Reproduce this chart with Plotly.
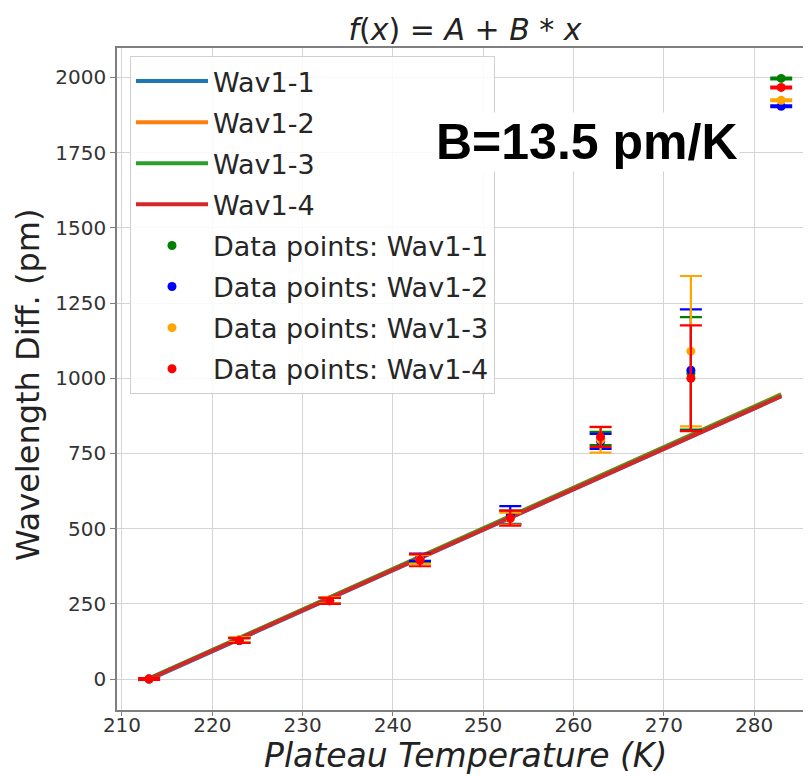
import plotly.graph_objects as go

# temperature plateaus (K)
temps = [213, 223, 233, 243, 253, 263, 273, 283]

# measured wavelength differences (pm) and their errors
wav1_1 = [0, 130, 262, 400, 538, 800, 1016, 1997]
err1_1 = [3, 8, 10, 15, 22, 22, 187, 3]
wav1_2 = [0, 128, 260, 405, 545, 790, 1027, 1904]
err1_2 = [3, 8, 10, 12, 30, 25, 202, 3]
wav1_3 = [0, 131, 262, 398, 533, 795, 1090, 1924]
err1_3 = [3, 8, 10, 15, 20, 42, 250, 3]
wav1_4 = [0, 128, 260, 395, 535, 805, 1000, 1967]
err1_4 = [3, 8, 10, 20, 25, 33, 176, 3]

# linear fits, evaluated at the end points
fit_x = [213, 283]
fit1_1 = [-2, 940]
fit1_2 = [1, 947]
fit1_3 = [2, 945]
fit1_4 = [0, 940]

fit_names = ["Wav1-1", "Wav1-2", "Wav1-3", "Wav1-4"]
fit_colors = ["#1f77b4", "#ff7f0e", "#2ca02c", "#d62728"]
fits = [fit1_1, fit1_2, fit1_3, fit1_4]

pt_names = ["Data points: Wav1-1", "Data points: Wav1-2",
            "Data points: Wav1-3", "Data points: Wav1-4"]
pt_colors = ["green", "blue", "orange", "red"]
pts = [wav1_1, wav1_2, wav1_3, wav1_4]
errs = [err1_1, err1_2, err1_3, err1_4]

fig = go.Figure()

for name, col, yy in zip(fit_names, fit_colors, fits):
    fig.add_trace(go.Scatter(
        x=fit_x, y=yy, mode="lines", name=name, legendgroup=name,
        line=dict(color=col, width=4)
    ))

for name, col, yy, ee in zip(pt_names, pt_colors, pts, errs):
    fig.add_trace(go.Scatter(
        x=temps, y=yy, mode="markers", name=name, legendgroup=name,
        marker=dict(color=col, size=9),
        error_y=dict(type="data", array=ee, visible=True,
                     color=col, thickness=2.2, width=11)
    ))

axis_font = dict(family="DejaVu Sans", size=20, color="#333333")

# the page body has an 8px margin, so shift everything up/left by it
OFF = 8
FW, FH = 811 - OFF, 776 - OFF
# plot area in page pixels: x 117..811, y 48..710
L, R, T, B = 117 - OFF, 811 - OFF, 48 - OFF, 710 - OFF
W, H = R - L, B - T


def px(x):
    return (x - OFF - L) / W


def py(y):
    return (B - (y - OFF)) / H


fig.update_layout(
    width=FW, height=FH,
    margin=dict(l=L, r=FW - R, t=T, b=FH - B),
    paper_bgcolor="white",
    plot_bgcolor="white",
    font=dict(family="DejaVu Sans", color="#262626"),
    title=dict(
        text="<i>f</i>(<i>x</i>) = <i>A</i> + <i>B</i> * <i>x</i>",
        x=(465 - OFF) / FW, xanchor="center", y=1 - (29 - OFF) / FH,
        yanchor="middle",
        font=dict(family="DejaVu Sans", size=30, color="#222222")
    ),
    xaxis=dict(
        range=[209.45, 286.3], automargin=False,
        tickmode="array", tickvals=[210, 220, 230, 240, 250, 260, 270, 280],
        tickfont=axis_font, ticklabelstandoff=-8,
        showgrid=True, gridcolor="#d4d4d4", gridwidth=1,
        showline=True, linecolor="#7f7f7f", linewidth=1.5, mirror=True,
        ticks="outside", ticklen=4, tickcolor="#7f7f7f",
        zeroline=False
    ),
    yaxis=dict(
        range=[-103, 2098], automargin=False,
        tickmode="array", tickvals=[0, 250, 500, 750, 1000, 1250, 1500, 1750, 2000],
        tickfont=axis_font,
        showgrid=True, gridcolor="#d4d4d4", gridwidth=1,
        showline=True, linecolor="#7f7f7f", linewidth=1.5,
        ticks="outside", ticklen=5, tickcolor="#7f7f7f",
        zeroline=False
    ),
    legend=dict(
        x=px(130), y=py(56), xanchor="left", yanchor="top",
        bgcolor="rgba(255,255,255,0.85)", bordercolor="#d0d0d0", borderwidth=1,
        font=dict(family="DejaVu Sans", size=27, color="#262626"),
        tracegroupgap=3, itemwidth=72
    ),
    annotations=[
        dict(text="<b>B=13.5 pm/K</b>", x=px(587), y=py(142),
             xref="paper", yref="paper", showarrow=False,
             xanchor="center", yanchor="middle",
             font=dict(family="Liberation Sans", size=50, color="black"),
             bgcolor="white"),
        dict(text="<i>Plateau Temperature (K)</i>", x=px(465), y=py(755),
             xref="paper", yref="paper", showarrow=False,
             xanchor="center", yanchor="middle",
             font=dict(family="DejaVu Sans", size=33, color="#222222")),
        dict(text="Wavelength Diff. (pm)", x=px(28), y=py(385),
             xref="paper", yref="paper", showarrow=False, textangle=-90,
             xanchor="center", yanchor="middle",
             font=dict(family="DejaVu Sans", size=32, color="#222222")),
    ]
)

fig.write_html("out.html")
